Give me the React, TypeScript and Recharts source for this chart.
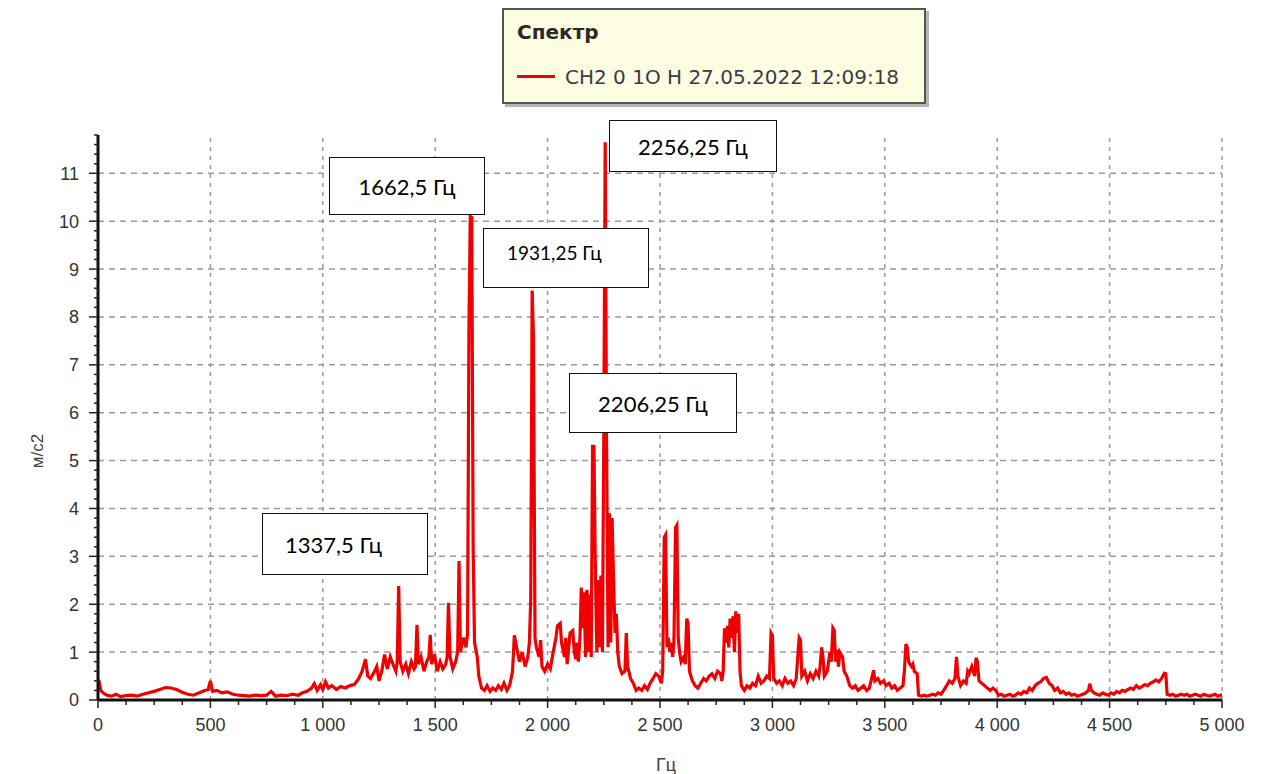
import React from 'react';
import { LineChart, Line, XAxis, YAxis, ReferenceLine } from 'recharts';

// ---- spectrum data (frequency, Hz / amplitude, m/s2) ----
const freqA = [0, 6, 12, 25, 40, 60, 80, 100, 125, 150, 175, 200, 225, 250, 275, 300, 325, 350, 375, 400, 425, 450, 475, 490, 500, 510, 530, 550, 575, 600, 625, 650, 675, 700, 725, 750, 770, 790, 815, 840, 865, 890, 910, 930, 950, 962, 975, 990, 1000, 1012, 1025, 1040, 1060, 1080, 1100, 1120, 1140, 1160, 1175, 1190, 1200, 1212, 1225, 1240, 1250, 1262, 1275, 1287];
const ampA = [0.42, 0.38, 0.2, 0.14, 0.1, 0.08, 0.12, 0.07, 0.09, 0.1, 0.08, 0.12, 0.15, 0.18, 0.22, 0.26, 0.25, 0.22, 0.16, 0.12, 0.1, 0.15, 0.2, 0.22, 0.4, 0.18, 0.2, 0.15, 0.17, 0.12, 0.1, 0.09, 0.08, 0.1, 0.09, 0.1, 0.18, 0.08, 0.1, 0.09, 0.12, 0.1, 0.15, 0.18, 0.25, 0.34, 0.2, 0.32, 0.22, 0.38, 0.25, 0.3, 0.22, 0.28, 0.25, 0.3, 0.32, 0.45, 0.6, 0.85, 0.5, 0.45, 0.55, 0.7, 0.4, 0.6, 0.95, 0.65];

const freqB = [1300, 1312, 1325, 1331, 1337.5, 1344, 1356, 1369, 1381, 1394, 1406, 1412, 1419, 1425, 1437, 1450, 1462, 1472, 1478, 1484, 1497, 1509, 1522, 1534, 1547, 1553, 1559, 1566, 1578, 1591, 1600, 1606, 1612, 1625, 1637, 1644, 1650, 1656, 1662.5, 1669, 1675, 1687, 1694, 1706, 1719, 1731, 1744, 1756, 1769, 1781, 1794, 1806, 1819, 1831, 1844, 1852, 1862, 1875, 1887, 1900, 1912, 1919, 1925, 1931.25, 1937, 1944, 1950, 1962, 1969, 1975, 1987];
const ampB = [0.9, 0.75, 0.6, 0.8, 2.38, 0.8, 0.6, 0.75, 0.55, 0.8, 0.65, 0.7, 1.57, 0.75, 0.9, 0.6, 0.8, 0.9, 1.36, 0.75, 0.95, 0.6, 0.8, 0.65, 0.75, 0.9, 2.03, 0.9, 0.65, 0.8, 1.0, 2.9, 1.0, 1.3, 1.1, 1.4, 7.7, 10.1, 10.08, 3.1, 1.2, 0.9, 0.5, 0.25, 0.2, 0.3, 0.18, 0.25, 0.2, 0.3, 0.22, 0.35, 0.2, 0.3, 0.6, 1.35, 1.1, 0.8, 1.0, 0.7, 0.9, 1.2, 2.1, 8.55, 7.6, 1.3, 1.1, 0.9, 1.25, 0.7, 0.6];

const freqC = [2000, 2012, 2025, 2037, 2044, 2056, 2062, 2075, 2081, 2087, 2100, 2112, 2119, 2125, 2131, 2137, 2144, 2150, 2156, 2162, 2169, 2175, 2181, 2187, 2194, 2200, 2206.25, 2212, 2219, 2225, 2231, 2237, 2244, 2250, 2256.25, 2262, 2269, 2275, 2281, 2287, 2294, 2300, 2306, 2312, 2319, 2331, 2344, 2350, 2356, 2369, 2381, 2394, 2406, 2419, 2431, 2444, 2456, 2469, 2481, 2494, 2506, 2512, 2519, 2525, 2531, 2537, 2544, 2550, 2556, 2562, 2569, 2575, 2581, 2587, 2594, 2606, 2612, 2619, 2625, 2631, 2644, 2656, 2669, 2681, 2694];
const ampC = [0.75, 0.65, 1.0, 1.3, 1.55, 1.6, 1.2, 0.9, 1.3, 0.75, 1.4, 1.45, 1.0, 0.85, 1.2, 0.8, 1.3, 2.35, 1.5, 2.25, 0.9, 2.3, 1.0, 2.2, 0.9, 5.3, 5.3, 2.9, 1.0, 2.5, 1.1, 2.6, 1.0, 5.6, 11.65, 5.6, 1.1, 3.9, 1.2, 3.8, 2.4, 1.4, 1.8, 1.0, 0.7, 0.55, 0.6, 1.4, 0.7, 0.45, 0.35, 0.2, 0.25, 0.2, 0.3, 0.22, 0.35, 0.45, 0.55, 0.5, 0.35, 0.6, 3.4, 3.45, 1.1, 1.3, 1.0, 1.2, 0.9, 1.2, 3.6, 3.65, 1.3, 1.0, 0.8, 0.9, 0.75, 1.7, 1.6, 0.6, 0.4, 0.3, 0.25, 0.35, 0.45];

const freqD = [2706, 2719, 2731, 2744, 2756, 2769, 2775, 2781, 2787, 2794, 2800, 2806, 2812, 2819, 2825, 2831, 2837, 2844, 2850, 2856, 2862, 2875, 2887, 2900, 2912, 2925, 2937, 2950, 2962, 2975, 2987, 2994, 3000, 3006, 3019, 3031, 3044, 3056, 3069, 3081, 3094, 3106, 3119, 3125, 3131, 3144, 3156, 3169, 3181, 3194, 3206, 3212, 3219, 3225, 3231, 3244, 3256, 3262, 3269, 3275, 3281, 3287, 3294, 3300, 3312, 3319, 3331, 3344, 3356, 3369, 3381, 3394, 3406, 3419, 3431, 3444, 3450, 3456, 3469, 3481, 3494, 3506, 3519, 3531, 3544, 3556, 3569, 3581, 3587, 3594, 3600, 3606, 3612, 3619, 3625, 3631, 3644, 3650, 3662, 3675, 3687];
const ampD = [0.4, 0.5, 0.55, 0.45, 0.6, 0.55, 0.4, 0.6, 1.5, 1.2, 1.55, 1.1, 1.7, 1.3, 1.75, 1.0, 1.85, 1.4, 1.8, 0.6, 0.3, 0.2, 0.3, 0.25, 0.35, 0.3, 0.5, 0.35, 0.4, 0.5, 0.45, 1.4, 1.35, 0.45, 0.35, 0.4, 0.3, 0.45, 0.35, 0.4, 0.3, 0.45, 1.3, 1.25, 0.5, 0.6, 0.4, 0.55, 0.45, 0.6, 0.5, 0.7, 1.1, 0.9, 0.5, 0.6, 1.0, 0.8, 1.5, 1.45, 0.8, 1.05, 0.7, 1.0, 0.9, 0.6, 0.5, 0.3, 0.25, 0.3, 0.2, 0.25, 0.3, 0.2, 0.25, 0.5, 0.62, 0.4, 0.45, 0.35, 0.4, 0.3, 0.35, 0.25, 0.3, 0.2, 0.25, 0.3, 0.6, 1.17, 1.1, 0.8, 0.75, 0.7, 0.75, 0.6, 0.55, 0.1, 0.08, 0.1, 0.08];

const freqE = [3700, 3712, 3725, 3737, 3750, 3762, 3775, 3787, 3800, 3812, 3819, 3825, 3837, 3850, 3862, 3869, 3875, 3887, 3900, 3906, 3912, 3919, 3931, 3944, 3956, 3969, 3981, 3994, 4006, 4019, 4031, 4044, 4056, 4069, 4081, 4094, 4106, 4119, 4131, 4144, 4156, 4169, 4181, 4194, 4206, 4219, 4231, 4244, 4256, 4269, 4281, 4294, 4306, 4319, 4331, 4344, 4356, 4369, 4381, 4394, 4406, 4412, 4419, 4431, 4444, 4456, 4469, 4481, 4494, 4506, 4519, 4531, 4544, 4556, 4569, 4581, 4594, 4606, 4619, 4631, 4644, 4656, 4669, 4681, 4694, 4706, 4719, 4731, 4744, 4750, 4756, 4769, 4781, 4794, 4806, 4819, 4831, 4844, 4856, 4869, 4881, 4894, 4906, 4919, 4931, 4944, 4956, 4969, 4981, 4994, 5000];
const ampE = [0.1, 0.12, 0.1, 0.15, 0.12, 0.2, 0.3, 0.4, 0.35, 0.45, 0.9, 0.5, 0.3, 0.4, 0.35, 0.6, 0.55, 0.7, 0.5, 0.88, 0.8, 0.4, 0.35, 0.3, 0.25, 0.2, 0.25, 0.2, 0.1, 0.12, 0.08, 0.1, 0.12, 0.08, 0.1, 0.15, 0.12, 0.18, 0.15, 0.25, 0.2, 0.3, 0.35, 0.38, 0.45, 0.47, 0.35, 0.3, 0.2, 0.25, 0.15, 0.18, 0.12, 0.15, 0.1, 0.12, 0.08, 0.1, 0.12, 0.15, 0.2, 0.34, 0.2, 0.15, 0.12, 0.1, 0.15, 0.12, 0.1, 0.15, 0.12, 0.18, 0.15, 0.2, 0.18, 0.22, 0.25, 0.22, 0.3, 0.25, 0.28, 0.32, 0.3, 0.35, 0.38, 0.42, 0.38, 0.45, 0.56, 0.55, 0.12, 0.1, 0.12, 0.08, 0.1, 0.12, 0.1, 0.12, 0.08, 0.1, 0.12, 0.1, 0.08, 0.12, 0.1, 0.08, 0.1, 0.12, 0.08, 0.1, 0.1];

// ---- axes / text ----
const xMajorTicks = [0, 500, 1000, 1500, 2000, 2500, 3000, 3500, 4000, 4500, 5000];
const yMajorTicks = [0, 1, 2, 3, 4, 5, 6, 7, 8, 9, 10, 11];
const xMinorTicks = Array.from({ length: 41 }, (_, i) => i * 125);
const yMinorTicks = Array.from({ length: 60 }, (_, i) => i / 5);
const seriesName = 'СН2 0 1О Н 27.05.2022 12:09:18';
const legendTitle = 'Спектр';
const xTitle = 'Гц';
const yTitle = 'м/с2';
const peakLabels = ['1662,5 Гц', '2256,25 Гц', '1931,25 Гц', '2206,25 Гц', '1337,5 Гц'];

const freqs = [...freqA, ...freqB, ...freqC, ...freqD, ...freqE];
const amps = [...ampA, ...ampB, ...ampC, ...ampD, ...ampE];
const data = freqs.map((f, i) => ({ f, a: amps[i] }));

const fmtX = (v: number) =>
  v >= 1000 ? `${Math.floor(v / 1000)} ${String(v % 1000).padStart(3, '0')}` : String(v);

const TICK_FONT = '"Liberation Sans", Arial, sans-serif';

const XTick = (props: any) => {
  const { x, y, payload } = props;
  const v = payload.value as number;
  const major = v % 500 === 0;
  return (
    <g>
      <line x1={x} x2={x} y1={y} y2={y + (major ? 8 : 5)} stroke="#222" strokeWidth={1.5} />
      {major && (
        <text x={x} y={y + 31} textAnchor="middle" fontSize={18} fontFamily={TICK_FONT} fill="#333">
          {fmtX(v)}
        </text>
      )}
    </g>
  );
};

const YTick = (props: any) => {
  const { x, y, payload } = props;
  const v = payload.value as number;
  const major = Math.abs(v - Math.round(v)) < 1e-6;
  return (
    <g>
      <line x1={x - (major ? 9 : 4)} x2={x} y1={y} y2={y} stroke="#222" strokeWidth={1.5} />
      {major && (
        <text x={x - 19} y={y} dy="0.36em" textAnchor="end" fontSize={18} fontFamily={TICK_FONT} fill="#333">
          {Math.round(v)}
        </text>
      )}
    </g>
  );
};

const boxBase: React.CSSProperties = {
  position: 'absolute',
  background: '#fff',
  border: '1.5px solid #111',
  boxSizing: 'border-box',
  fontFamily: 'Lato, "Open Sans", sans-serif',
  color: '#000',
  display: 'flex',
  alignItems: 'center',
  whiteSpace: 'nowrap',
};

export default function App() {
  return (
    <div style={{ position: 'relative', width: 1260, height: 766, background: '#fff' }}>
      <LineChart width={1260} height={766} data={data} margin={{ top: 127, right: 46, bottom: 34, left: 0 }}>
        <XAxis
          xAxisId="b"
          dataKey="f"
          type="number"
          domain={[0, 5000]}
          ticks={xMinorTicks}
          interval={0}
          tick={<XTick />}
          tickLine={false}
          tickSize={0}
          tickMargin={0}
          height={40}
          axisLine={{ stroke: '#111', strokeWidth: 3 }}
        />
        <XAxis
          xAxisId="t"
          orientation="top"
          type="number"
          domain={[0, 5000]}
          height={0}
          tick={false}
          tickLine={false}
          axisLine={{ stroke: '#4a4a4a', strokeWidth: 2.5 }}
        />
        <YAxis
          yAxisId="l"
          type="number"
          domain={[0, 11.8]}
          ticks={yMinorTicks}
          interval={0}
          tick={<YTick />}
          tickLine={false}
          tickSize={0}
          tickMargin={0}
          width={90}
          allowDataOverflow
          axisLine={{ stroke: '#111', strokeWidth: 3 }}
        />
        <YAxis
          yAxisId="r"
          orientation="right"
          type="number"
          domain={[0, 11.8]}
          width={0}
          tick={false}
          tickLine={false}
          axisLine={{ stroke: '#4a4a4a', strokeWidth: 2.5 }}
        />
        {yMajorTicks.slice(1).map((v) => (
          <ReferenceLine key={'h' + v} xAxisId="b" yAxisId="l" y={v} stroke="#999" strokeWidth={1.5} strokeDasharray="6 5" />
        ))}
        {xMajorTicks.slice(1).map((v) => (
          <ReferenceLine key={'v' + v} xAxisId="b" yAxisId="l" x={v} stroke="#999" strokeWidth={1.5} strokeDasharray="4 5" />
        ))}
        <Line
          xAxisId="b"
          yAxisId="l"
          type="linear"
          dataKey="a"
          name={seriesName}
          stroke="#f00000"
          strokeWidth={3.2}
          strokeLinejoin="miter"
          dot={false}
          activeDot={false}
          isAnimationActive={false}
        />
      </LineChart>

      {/* axis titles */}
      <div
        style={{
          position: 'absolute', left: 30, top: 443, transform: 'translate(-50%, -50%) rotate(-90deg)',
          fontFamily: TICK_FONT, fontSize: 17, color: '#444', whiteSpace: 'nowrap',
        }}
      >
        {yTitle}
      </div>
      <div
        style={{
          position: 'absolute', left: 658, top: 757, transform: 'translate(-50%, -50%)',
          fontFamily: TICK_FONT, fontSize: 18, color: '#444', whiteSpace: 'nowrap',
        }}
      >
        {xTitle}
      </div>

      {/* legend */}
      <div
        style={{
          position: 'absolute', left: 494, top: 0, width: 424, height: 96, boxSizing: 'border-box',
          border: '2px solid #555', background: '#fdfde1', boxShadow: '3px 3px 0 #b5b5b5',
        }}
      >
        <div
          style={{
            position: 'absolute', left: 13, top: 10, lineHeight: '24px', fontSize: 20, fontWeight: 'bold',
            fontFamily: '"DejaVu Sans", sans-serif', color: '#2a2a2a',
          }}
        >
          {legendTitle}
        </div>
        <div style={{ position: 'absolute', left: 13, top: 65, width: 38, height: 3, background: '#f00000' }} />
        <div
          style={{
            position: 'absolute', left: 61, top: 55, lineHeight: '24px', fontSize: 20,
            fontFamily: '"DejaVu Sans", sans-serif', color: '#3b3b48', whiteSpace: 'nowrap',
          }}
        >
          {seriesName}
        </div>
      </div>

      {/* peak annotations */}
      <div style={{ ...boxBase, left: 321, top: 149, width: 156, height: 58, justifyContent: 'center', fontSize: 22 }}>
        {peakLabels[0]}
      </div>
      <div style={{ ...boxBase, left: 601, top: 112, width: 168, height: 52, justifyContent: 'center', fontSize: 22 }}>
        {peakLabels[1]}
      </div>
      <div style={{ ...boxBase, left: 475, top: 220, width: 166, height: 60, alignItems: 'flex-start', paddingLeft: 23, paddingTop: 12, fontSize: 19 }}>
        {peakLabels[2]}
      </div>
      <div style={{ ...boxBase, left: 561, top: 365, width: 168, height: 60, justifyContent: 'center', fontSize: 22 }}>
        {peakLabels[3]}
      </div>
      <div style={{ ...boxBase, left: 254, top: 505, width: 166, height: 62, paddingLeft: 22, fontSize: 22 }}>
        {peakLabels[4]}
      </div>
    </div>
  );
}
